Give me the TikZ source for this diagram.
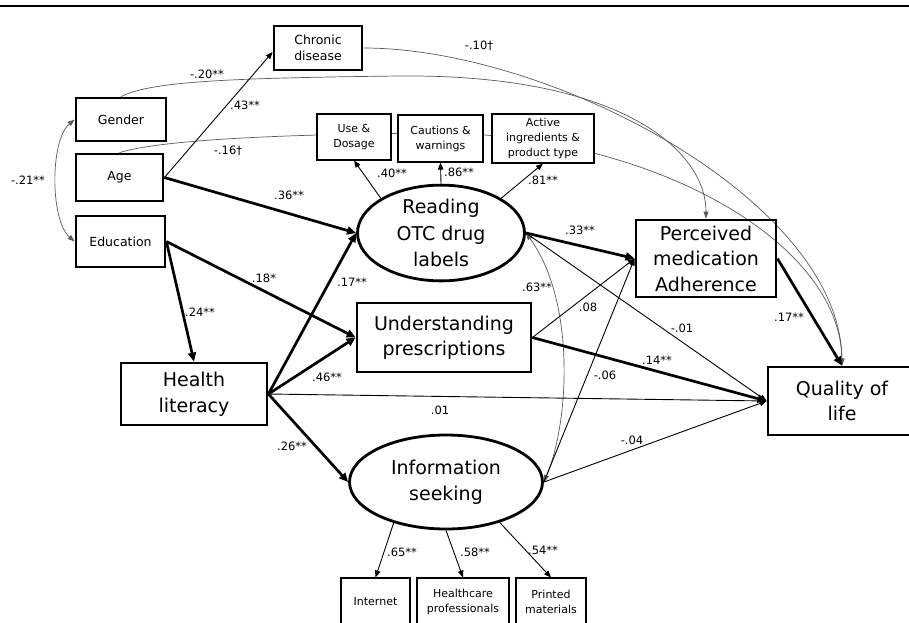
\documentclass[tikz,border=0pt]{standalone}
\usepackage{fontspec}
\setmainfont{DejaVu Sans}
\usetikzlibrary{shapes.geometric,arrows.meta,positioning,backgrounds}
\tikzset
{
    varbox/.style = {rectangle, draw=black, line width=2.8pt, align=center, inner sep=0pt, font=\fontsize{12.5}{16.5}\selectfont},
    bigbox/.style = {rectangle, draw=black, line width=2.8pt, align=center, inner sep=0pt, font=\fontsize{19}{25.5}\selectfont},
    latent/.style = {ellipse, draw=black, line width=2.8pt, align=center, inner sep=0pt, font=\fontsize{19}{26.5}\selectfont},
    itembox/.style = {rectangle, draw=black, line width=1.1pt, fill=white, align=center, inner sep=0pt, font=\fontsize{11}{15}\selectfont},
    coef/.style = {font=\fontsize{11.5}{13}\selectfont, inner sep=1pt},
    strongpath/.style = {line width=2.7pt, -{Triangle[length=9pt,width=8pt]}},
    weakpath/.style = {line width=0.9pt, -{Triangle[length=7pt,width=5.5pt]}},
    covpath/.style = {line width=0.7pt, draw=black!65, -{Triangle[length=7pt,width=5pt]}},
    covboth/.style = {covpath, {Triangle[length=7pt,width=5pt]}-{Triangle[length=7pt,width=5pt]}}
}

\begin{document}
\begin{tikzpicture}[x=1pt, y=-1pt]
\useasboundingbox (0,0) rectangle (909,622);
\draw[line width=1.3pt] (0,6) -- (909,6);

% observed variables
\node[varbox, minimum width=88, minimum height=44] (Chronic) at (318,48) {Chronic\\disease};
\node[varbox, minimum width=90, minimum height=43] (Gender) at (121,119.5) {Gender};
\node[varbox, minimum width=87, minimum height=47] (Age) at (119.5,177.5) {Age};
\node[varbox, minimum width=89, minimum height=51] (Education) at (120.5,241.5) {Education};
\node[bigbox, minimum width=146, minimum height=62] (Literacy) at (194,394) {Health\\literacy};
\node[bigbox, minimum width=174, minimum height=69] (Understanding) at (444,337.5) {Understanding\\prescriptions};
\node[bigbox, minimum width=140, minimum height=77] (Adherence) at (706,258.5) {Perceived\\medication\\Adherence};
\node[bigbox, minimum width=148, minimum height=68] (Quality) at (842,401) {Quality of\\life};

% latent variables
\node[latent, minimum width=167, minimum height=94] (Reading) at (441,233) {Reading\\OTC drug\\labels};
\node[latent, minimum width=193, minimum height=94] (Seeking) at (446,482) {Information\\seeking};

% indicators
\node[itembox, minimum width=74, minimum height=46] (Dosage) at (354,137) {Use \&\\Dosage};
\node[itembox, minimum width=85, minimum height=47] (Cautions) at (440.5,138.5) {Cautions \&\\warnings};
\node[itembox, minimum width=102, minimum height=49] (Ingredients) at (543,138.5) {Active\\ingredients \&\\product type};
\node[itembox, minimum width=69, minimum height=48] (Internet) at (375.5,602) {Internet};
\node[itembox, minimum width=92, minimum height=48] (Professionals) at (463,602) {Healthcare\\professionals};
\node[itembox, minimum width=70, minimum height=48] (Printed) at (551,602) {Printed\\materials};

% long curved paths
\begin{scope}[on background layer]
\draw[covpath] (Chronic.east) .. controls (550,48) and (840,200) .. (Quality.north);
\draw[covpath] (Gender.north) .. controls (150,82) and (220,78) .. (400,76) .. controls (620,74) and (706,150) .. (Adherence.north);
\draw[covpath] (Age.north) .. controls (160,140) and (280,134) .. (440,133) .. controls (650,135) and (840,240) .. (Quality.north);
\end{scope}
\draw[covboth] (Gender.west) .. controls (50,140) and (50,220) .. (Education.west);
\draw[covboth] (Reading.east) .. controls (575,300) and (570,420) .. (Seeking.east);

% paths
\draw[weakpath] (Age.east) -- ([yshift=-4pt]Chronic.west);
\draw[strongpath] (Age.east) -- (Reading.west);
\draw[strongpath] (Education.east) -- (Understanding.west);
\draw[strongpath] (Education.east) -- (Literacy.north);
\draw[strongpath] (Literacy.east) -- (Reading.west);
\draw[strongpath] (Literacy.east) -- (Understanding.west);
\draw[strongpath] (Literacy.east) -- (Seeking.west);
\draw[weakpath] (Literacy.east) -- (Quality.west);
\draw[strongpath] (Reading.east) -- (Adherence.west);
\draw[weakpath] (Reading.east) -- (Quality.west);
\draw[weakpath] (Understanding.east) -- (Adherence.west);
\draw[strongpath] (Understanding.east) -- (Quality.west);
\draw[weakpath] (Seeking.east) -- (Adherence.west);
\draw[weakpath] (Seeking.east) -- (Quality.west);
\draw[strongpath] (Adherence.east) -- (Quality.north);

% loadings
\draw[weakpath] (Reading.150) -- (Dosage.south);
\draw[weakpath] (Reading.north) -- (Cautions.south);
\draw[weakpath] (Reading.30) -- (Ingredients.south);
\draw[weakpath] (Seeking.218) -- (Internet.north);
\draw[weakpath] (Seeking.south) -- (Professionals.north);
\draw[weakpath] (Seeking.323) -- (Printed.north);

% coefficients
\node[coef] (cGE) at (28,180) {-.21**};
\node[coef] (cGA) at (207,74) {-.20**};
\node[coef] (cCQ) at (479,46) {-.10†};
\node[coef] (cAQ) at (228,151) {-.16†};
\node[coef] (cAC) at (245,105) {.43**};
\node[coef] (cAR) at (289,195) {.36**};
\node[coef] (cEU) at (264,278) {.18*};
\node[coef] (cEL) at (200,312) {.24**};
\node[coef] (cLR) at (352,282) {.17**};
\node[coef] (cLU) at (327,377) {.46**};
\node[coef] (cLQ) at (440,410) {.01};
\node[coef] (cLS) at (292,446) {.26**};
\node[coef] (cRD) at (392,173) {.40**};
\node[coef] (cRC) at (459,172) {.86**};
\node[coef] (cRI) at (543,180) {.81**};
\node[coef] (cRA) at (580,230) {.33**};
\node[coef] (cRS) at (537,287) {.63**};
\node[coef] (cUA) at (588,307) {.08};
\node[coef] (cRQ) at (682,328) {-.01};
\node[coef] (cUQ) at (657,360) {.14**};
\node[coef] (cSA) at (605,375) {-.06};
\node[coef] (cSQ) at (632,440) {-.04};
\node[coef] (cAQ2) at (789,317) {.17**};
\node[coef] (cSI) at (402,552) {.65**};
\node[coef] (cSH) at (475,552) {.58**};
\node[coef] (cSP) at (543,550) {.54**};
\end{tikzpicture}
\end{document}
